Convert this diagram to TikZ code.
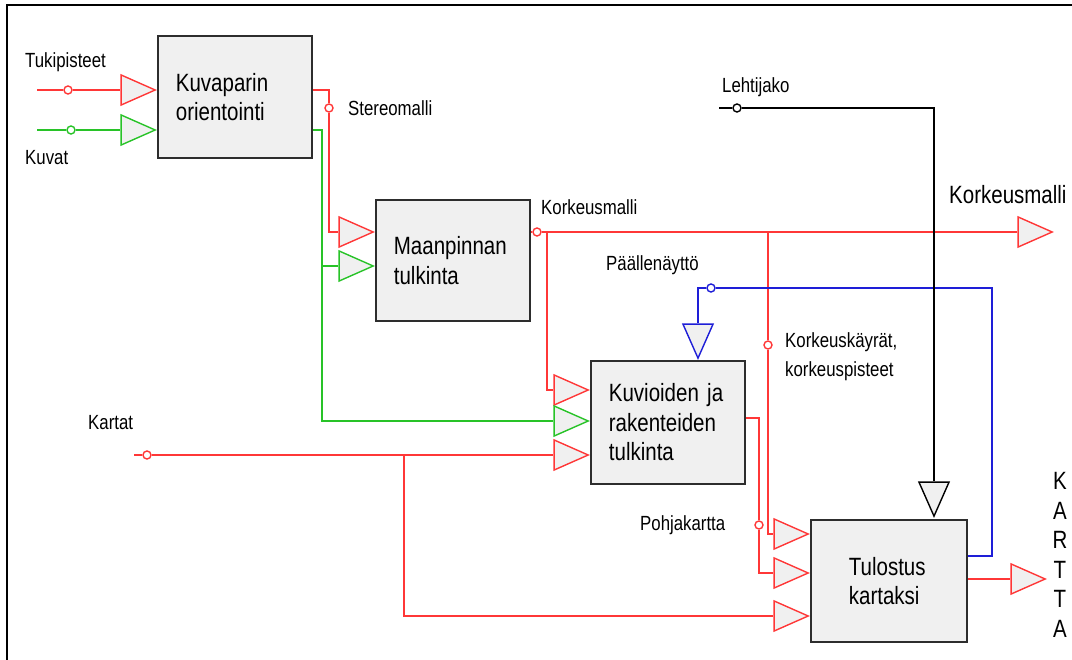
\documentclass[tikz,border=0pt]{standalone}
\usepackage{fontspec}
\setmainfont{Liberation Sans}
\newfontfamily\narrowsans[FakeStretch=0.82]{Liberation Sans}
\usetikzlibrary{shapes.geometric}
\definecolor{wred}{RGB}{255,55,55}
\definecolor{wgreen}{RGB}{40,195,40}
\definecolor{wblue}{RGB}{30,30,215}
\definecolor{boxfill}{RGB}{240,240,240}
\definecolor{boxline}{RGB}{45,45,45}
\begin{document}
\begin{tikzpicture}[x=1pt,y=-1pt,
  small/.style={font=\narrowsans\fontsize{20.5}{29}\selectfont, inner sep=0, anchor=west, align=left},
  big/.style={font=\narrowsans\fontsize{25}{29.5}\selectfont},
  box/.style={draw=boxline, fill=boxfill, line width=1.8, big, align=left,
    inner ysep=0, anchor=north west},
  tri/.style={isosceles triangle, isosceles triangle stretches, draw=#1, fill=boxfill,
    line width=1.4, inner sep=0, minimum width=30, minimum height=34, anchor=apex},
  dtri/.style={tri=#1, shape border rotate=-90},
  dot/.style={circle, draw=#1, fill=white, line width=1.4, inner sep=0, minimum size=8},
  wire/.style={line width=1.7, draw=#1},
]
\useasboundingbox (0,0) rectangle (1072,660);
% outer frame
\draw[line width=2] (7,660) -- (7,5) -- (1072,5);

% process boxes
\node[box, minimum width=154, minimum height=122, text width=118, inner xsep=18] (b1) at (157,35) {Kuvaparin\\orientointi};
\node[box, minimum width=154, minimum height=121, text width=118, inner xsep=18] (b2) at (375,199) {Maanpinnan\\tulkinta};
\node[box, minimum width=154, minimum height=123, text width=118, inner xsep=18] (b3) at (590,360) {Kuvioiden ja\\rakenteiden\\tulkinta};
\node[box, minimum width=156, minimum height=122, text width=80, inner xsep=38] (b4) at (810,519) {Tulostus\\kartaksi};

% input / output triangles
\node[tri=wred]   (tA1) at (157,90) {};
\node[tri=wgreen] (tA2) at (157,130) {};
\node[tri=wred]   (tB1) at (375,232) {};
\node[tri=wgreen] (tB2) at (375,266) {};
\node[tri=wred]   (tC1) at (590,390) {};
\node[tri=wgreen] (tC2) at (590,421) {};
\node[tri=wred]   (tC3) at (590,455) {};
\node[tri=wred]   (tD1) at (810,534) {};
\node[tri=wred]   (tD2) at (810,573) {};
\node[tri=wred]   (tD3) at (810,616) {};
\node[tri=wred]   (tK)  at (1054,232) {};
\node[tri=wred]   (tM)  at (1047,579) {};
\node[dtri=wblue] (tP)  at (698,360) {};
\node[dtri=black] (tL)  at (934,518) {};

% junction coordinates
\coordinate (inT) at (37,90);
\coordinate (inK) at (37,130);
\coordinate (sR) at (329,90);
\coordinate (sG) at (322,130);
\coordinate (kR) at (547,232);
\coordinate (kV) at (768,232);
\coordinate (pR) at (759,418);
\coordinate (inKa) at (134,455);
\coordinate (kaJ) at (404,455);
\coordinate (pB1) at (992,556);
\coordinate (pB2) at (992,288);
\coordinate (lS) at (719,108);
\coordinate (lC) at (934,108);

% small port circles
\node[dot=wred]   (cT)  at (68,90) {};
\node[dot=wgreen] (cK)  at (71,130) {};
\node[dot=wred]   (cS)  at (329,108) {};
\node[dot=wred]   (cM)  at (537,232) {};
\node[dot=wred]   (cV)  at (768,345) {};
\node[dot=wred]   (cP)  at (759,525) {};
\node[dot=wred]   (cKa) at (147,455) {};
\node[dot=wblue]  (cB)  at (711,288) {};
\node[dot=black]  (cL)  at (737,108) {};

% red connectors
\draw[wire=wred] (inT) -- (cT) -- (tA1.lower side);
\draw[wire=wred] (b1.east |- sR) -- (sR) -- (cS) -- (sR |- tB1.lower side) -- (tB1.lower side);
\draw[wire=wred] (b2.east |- cM) -- (cM) -- (tK.lower side);
\draw[wire=wred] (kR) -- (kR |- tC1.lower side) -- (tC1.lower side);
\draw[wire=wred] (kV) -- (cV) -- (kV |- tD1.lower side) -- (tD1.lower side);
\draw[wire=wred] (b3.east |- pR) -- (pR) -- (cP) -- (pR |- tD2.lower side) -- (tD2.lower side);
\draw[wire=wred] (inKa) -- (cKa) -- (tC3.lower side);
\draw[wire=wred] (kaJ) -- (kaJ |- tD3.lower side) -- (tD3.lower side);
\draw[wire=wred] (b4.east |- tM.lower side) -- (tM.lower side);

% green connectors
\draw[wire=wgreen] (inK) -- (cK) -- (tA2.lower side);
\draw[wire=wgreen] (b1.east |- sG) -- (sG) -- (sG |- tC2.lower side) -- (tC2.lower side);
\draw[wire=wgreen] (sG |- tB2.lower side) -- (tB2.lower side);

% blue connector
\draw[wire=wblue] (b4.east |- pB1) -- (pB1) -- (pB2) -- (cB) -- (tP.lower side |- pB2) -- (tP.lower side);

% black connector
\draw[wire=black] (lS) -- (cL) -- (lC) -- (tL.lower side);

% labels
\node[small] (lTuki) at (25,62)  {Tukipisteet};
\node[small] (lKuva) at (25,158) {Kuvat};
\node[small] (lSter) at (348,108) {Stereomalli};
\node[small] (lKork) at (541,207) {Korkeusmalli};
\node[small] (lLeht) at (722,87) {Lehtijako};
\node[small] (lPaal) at (606,265) {Päällenäyttö};
\node[small] (lKayr) at (785,357) {Korkeuskäyrät,\\korkeuspisteet};
\node[small] (lKart) at (88,423) {Kartat};
\node[small] (lPohj) at (640,525) {Pohjakartta};
\node[big, inner sep=0, anchor=west] (lKorO) at (949,195) {Korkeusmalli};
\node[big, inner sep=0, align=center] (lMap) at (1060,555) {K\\A\\R\\T\\T\\A};
\end{tikzpicture}
\end{document}
